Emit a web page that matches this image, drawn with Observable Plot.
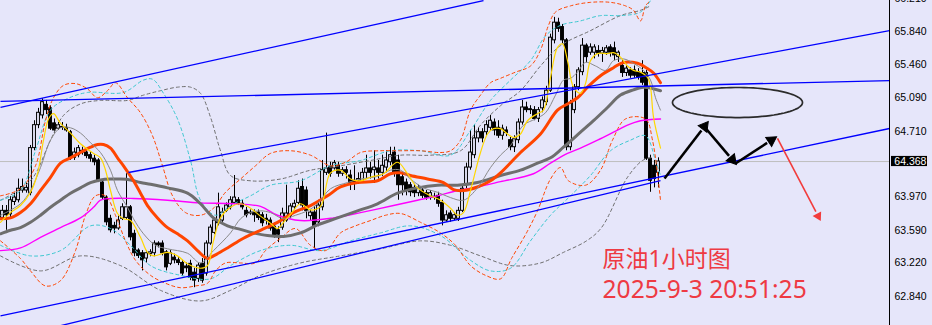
<!DOCTYPE html>
<html><head><meta charset="utf-8">
<script src="https://cdn.jsdelivr.net/npm/d3@7"></script>
<script src="https://cdn.jsdelivr.net/npm/@observablehq/plot@0.6"></script>
<style>
html,body{margin:0;padding:0;background:#E6E6FA;}
#chart svg{display:block;}
</style></head><body><div id="chart"></div>
<script>
// ---- candle data (hourly OHLC, crude oil) ----
const openP = [
63.73,63.81,63.77,63.91,63.93,64.04,64.04,64.01,64.52,64.78,
64.89,65.01,64.97,64.80,64.74,64.75,64.75,64.70,64.41,64.44,
64.49,64.47,64.44,64.40,64.38,64.13,63.96,63.72,63.64,63.61,
63.72,63.73,63.85,63.55,63.36,63.33,63.27,63.32,63.33,63.44,
63.44,63.34,63.21,63.28,63.25,63.22,63.18,63.21,63.11,63.04,
63.21,63.10,63.44,63.56,63.67,63.70,63.81,63.85,63.90,63.93,
63.89,63.81,63.79,63.79,63.79,63.76,63.72,63.70,63.63,63.59,
63.62,63.70,63.75,63.85,63.90,64.08,64.04,63.75,63.79,63.68,
63.85,64.24,64.31,64.29,64.32,64.23,64.27,64.21,64.15,64.15,
64.15,64.24,64.29,64.27,64.29,64.24,64.30,64.36,64.47,64.38,
64.19,64.13,64.10,64.07,64.01,64.04,64.01,63.96,63.97,63.98,
63.90,63.70,63.78,63.72,63.72,63.81,64.10,64.30,64.44,64.63,
64.70,64.70,64.75,64.81,64.75,64.66,64.72,64.61,64.53,64.61,
64.81,64.98,64.96,64.95,64.85,64.97,65.04,65.17,65.74,65.94,
65.89,65.74,64.53,64.95,65.21,65.38,65.68,65.60,65.60,65.62,
65.59,65.60,65.66,65.65,65.55,65.45,65.37,65.40,65.40,65.38,
65.37,65.37,64.40,64.32,64.24];
const highP = [
63.87,63.87,63.97,64.01,64.17,64.17,64.12,64.55,64.83,64.97,
65.08,65.06,65.00,64.85,64.81,64.81,64.79,64.72,64.52,64.55,
64.53,64.49,64.47,64.44,64.40,64.15,63.98,63.76,63.68,63.75,
63.89,64.23,63.87,63.59,63.38,63.36,63.36,63.37,63.47,63.46,
63.47,63.36,63.36,63.32,63.28,63.25,63.22,63.25,63.16,63.22,
63.27,63.47,63.65,63.73,64.01,63.84,63.90,63.97,64.21,63.96,
63.93,63.85,63.82,63.82,63.82,63.79,63.77,63.73,63.67,63.63,
63.84,64.10,63.89,63.93,64.15,64.17,64.08,63.82,63.86,63.93,
64.38,64.69,64.36,64.38,64.36,64.30,64.31,64.27,64.32,64.24,
64.29,64.44,64.36,64.49,64.38,64.44,64.49,64.53,64.53,64.44,
64.24,64.17,64.13,64.11,64.10,64.07,64.04,64.04,64.01,64.02,
63.93,63.81,63.81,63.79,63.85,64.10,64.35,64.72,64.78,64.75,
64.74,64.83,64.89,64.85,64.83,64.78,64.76,64.64,64.66,64.85,
65.06,65.04,65.00,64.99,64.98,65.10,65.22,65.81,66.00,65.99,
65.92,65.76,65.06,65.24,65.43,65.76,65.70,65.70,65.69,65.68,
65.66,65.68,65.69,65.72,65.62,65.51,65.45,65.43,65.45,65.42,
65.51,65.40,64.44,64.38,64.41];
const lowP = [
63.70,63.59,63.72,63.87,63.90,64.01,64.01,63.98,64.49,64.74,
64.85,64.90,64.72,64.69,64.72,64.72,64.70,64.38,64.38,64.41,
64.44,64.40,64.36,64.32,64.13,63.93,63.64,63.56,63.55,63.59,
63.70,63.71,63.47,63.29,63.27,63.13,63.22,63.29,63.29,63.39,
63.30,63.13,63.19,63.21,63.19,63.07,63.11,63.02,62.94,63.00,
62.99,63.07,63.42,63.54,63.64,63.68,63.79,63.82,63.88,63.87,
63.82,63.73,63.76,63.68,63.70,63.63,63.65,63.58,63.50,63.45,
63.59,63.68,63.72,63.82,63.88,63.81,63.72,63.70,63.38,63.63,
63.81,64.21,64.19,64.27,64.19,64.20,64.17,64.04,64.04,64.11,
64.13,64.17,64.17,64.12,64.17,64.20,64.24,64.32,64.19,63.93,
63.98,63.98,63.97,63.96,63.97,63.95,63.93,63.93,63.93,63.85,
63.64,63.68,63.68,63.70,63.69,63.79,64.06,64.27,64.40,64.58,
64.58,64.66,64.72,64.66,64.63,64.61,64.65,64.49,64.47,64.57,
64.78,64.92,64.90,64.83,64.81,64.92,65.00,65.15,65.70,65.83,
65.70,64.49,64.49,64.91,65.17,65.34,65.49,65.57,65.53,65.55,
65.49,65.57,65.55,65.51,65.49,65.32,65.33,65.31,65.31,65.29,
65.23,64.38,64.02,64.07,64.07];
const closeP = [
63.81,63.76,63.93,63.96,64.06,64.08,64.07,64.52,64.78,64.92,
65.04,64.95,64.74,64.72,64.78,64.76,64.72,64.40,64.47,64.52,
64.47,64.43,64.40,64.36,64.15,63.96,63.68,63.59,63.61,63.70,
63.85,63.85,63.51,63.33,63.30,63.25,63.33,63.34,63.44,63.42,
63.33,63.17,63.33,63.25,63.22,63.10,63.16,63.05,63.02,63.19,
63.02,63.44,63.62,63.70,63.85,63.79,63.87,63.93,63.96,63.89,
63.85,63.76,63.78,63.76,63.73,63.67,63.70,63.61,63.53,63.54,
63.78,63.78,63.86,63.89,64.06,63.87,63.81,63.79,63.64,63.87,
64.27,64.29,64.23,64.35,64.23,64.27,64.24,64.12,64.13,64.17,
64.24,64.29,64.24,64.30,64.24,64.32,64.38,64.44,64.23,64.10,
64.10,64.04,64.02,64.01,64.06,63.98,63.96,64.01,63.96,63.89,
63.70,63.76,63.72,63.76,63.81,64.06,64.30,64.47,64.63,64.70,
64.63,64.78,64.83,64.72,64.66,64.74,64.69,64.53,64.62,64.81,
64.98,64.95,64.95,64.85,64.95,65.06,65.17,65.77,65.94,65.87,
65.74,64.53,65.02,65.21,65.40,65.68,65.55,65.66,65.66,65.59,
65.62,65.65,65.60,65.57,65.60,65.37,65.42,65.34,65.34,65.32,
65.26,64.40,64.15,64.17,64.368];

const yTicks = [66.21, 65.84, 65.46, 65.09, 64.71, 63.97, 63.59, 63.22, 62.84];
const lastPrice = 64.368;

// ---- indicator lines: [candle index, price] ----
const maYellow = [[-0.5,63.68],[2,63.79],[4.5,63.87],[7,64.02],[8.75,64.23],[10.25,64.61],[11.5,64.85],[12.75,64.91],[14.5,64.80],[17,64.69],[19.5,64.57],[22.75,64.46],[24.5,64.41],[25.75,64.27],[27,64.04],[28.75,63.78],[30.25,63.72],[32,63.70],[34.5,63.51],[36.25,63.34],[37.75,63.30],[41.25,63.34],[43.75,63.30],[46.25,63.21],[49.5,63.16],[51.25,63.19],[52.75,63.47],[54.5,63.73],[57,63.85],[59.5,63.89],[62,63.84],[64.5,63.75],[67,63.67],[68.75,63.61],[70.25,63.68],[72,63.77],[74.5,63.89],[77,63.82],[79.5,63.86],[82,64.24],[84.5,64.27],[87,64.17],[89.5,64.15],[92,64.19],[95.25,64.23],[98.75,64.36],[101.25,64.23],[103.75,64.07],[107,63.98],[109.5,63.93],[112,63.84],[113.75,63.76],[115.25,63.79],[117,64.04],[119.5,64.47],[121.25,64.68],[122.75,64.74],[124.5,64.74],[126.25,64.68],[127.75,64.64],[129.5,64.68],[131.25,64.83],[133.75,64.91],[135.25,64.95],[137,65.32],[138.75,65.66],[140,65.70],[141.25,65.51],[142.75,65.21],[144.5,65.14],[145.75,65.25],[147,65.51],[148.75,65.59],[151.25,65.59],[152.75,65.60],[154.5,65.55],[156.25,65.45],[157.75,65.40],[159.5,65.38],[161.25,65.32],[162,65.21],[162.75,64.87],[164.5,64.52]];
const maGrayThin = [[-0.5,63.76],[4.5,63.89],[7,64.04],[9.5,64.30],[12,64.61],[14.5,64.75],[17,64.75],[19.5,64.69],[22,64.58],[24.5,64.47],[27,64.27],[28.75,64.04],[31.25,63.85],[32.75,63.72],[35.25,63.55],[38.25,63.42],[41.25,63.38],[46.25,63.33],[49.5,63.22],[52.75,63.36],[57,63.56],[59.5,63.72],[62,63.79],[64.5,63.81],[67,63.79],[70.25,63.72],[73.25,63.76],[76.25,63.81],[78.75,63.89],[82,64.06],[86.25,64.13],[89.5,64.17],[93.75,64.20],[97,64.27],[99.5,64.27],[102,64.17],[105.25,64.07],[108.75,64.02],[112,63.96],[115.25,63.93],[118.75,64.07],[122,64.30],[124.5,64.44],[127,64.55],[130.25,64.78],[133.25,64.85],[135.75,64.92],[138.25,65.12],[140.25,65.29],[142,65.31],[143.75,65.38],[145.75,65.49],[148.25,65.45],[150.75,65.40],[152.75,65.51],[155.25,65.53],[157.75,65.48],[160.25,65.40],[162,65.29],[163.25,65.09],[164.5,64.95]];
const maOrange = [[-0.5,63.72],[2,63.73],[4.5,63.79],[7,63.89],[9.5,64.04],[12,64.19],[14.5,64.35],[17,64.41],[19.5,64.47],[22,64.53],[23.75,64.56],[25.25,64.56],[27,64.52],[28.75,64.41],[30.25,64.32],[32.75,64.15],[34.5,64.01],[36.25,63.87],[38.75,63.73],[41.25,63.62],[43.75,63.55],[46.25,63.47],[48.75,63.36],[51.25,63.27],[52.75,63.30],[56.25,63.39],[60.25,63.50],[64.5,63.59],[68.75,63.68],[72.75,63.79],[77,63.87],[81.25,63.98],[84.5,64.08],[88.75,64.13],[93.75,64.15],[97,64.23],[99.5,64.24],[102,64.21],[106.25,64.17],[110.25,64.13],[112.75,64.05],[115.25,64.04],[118.75,64.08],[122,64.15],[124.5,64.24],[129.5,64.47],[134.5,64.68],[138.75,64.95],[141.25,65.02],[143.75,65.09],[146.25,65.21],[149.5,65.34],[152.75,65.43],[155.25,65.49],[158.75,65.48],[161.25,65.42],[162.75,65.37],[164.5,65.26]];
const maGrayThick = [[-0.5,63.55],[2,63.59],[4.5,63.62],[7,63.68],[9.5,63.76],[12,63.85],[14.5,63.93],[17,64.01],[19.5,64.07],[22,64.13],[24.5,64.16],[27,64.17],[29.5,64.17],[32,64.16],[34.5,64.13],[37,64.11],[41.25,64.07],[46.25,64.01],[49.5,63.89],[52.75,63.73],[56.25,63.64],[59.5,63.60],[62.75,63.56],[66.25,63.53],[70.25,63.52],[74.5,63.56],[78.75,63.65],[83.75,63.73],[88.75,63.81],[93.75,63.89],[98.75,64.01],[103.75,64.07],[108.75,64.10],[113.75,64.10],[118.75,64.13],[124.5,64.21],[129.5,64.27],[133.75,64.35],[137,64.41],[140.25,64.53],[144.5,64.70],[147.75,64.83],[151.25,64.98],[154.5,65.12],[157.75,65.18],[160.25,65.21],[164.5,65.17]];
const maMagenta = [[-0.5,63.36],[4.5,63.39],[9.5,63.51],[14.5,63.62],[19.5,63.73],[22.75,63.85],[24.5,63.93],[27,63.95],[32.75,63.95],[41.25,63.93],[49.5,63.90],[57.75,63.89],[64.5,63.86],[68.75,63.76],[74.5,63.70],[82.75,63.73],[89.5,63.79],[97.75,63.87],[103.75,63.93],[108.75,63.98],[113.75,64.04],[118.75,64.08],[124.5,64.14],[132.75,64.23],[137,64.35],[141.25,64.46],[144.5,64.52],[148.75,64.61],[152.75,64.70],[156.25,64.78],[159.5,64.83],[164.5,64.85]];

// envelope bands (dashed)
const bandOrangeUp = [[-0.5,63.98],[4.5,64.06],[8.25,64.32],[10.75,64.83],[12.75,65.09],[15.25,65.23],[18.25,65.25],[21.25,65.19],[23.75,65.09],[26.25,65.17],[28.25,65.26],[31.25,65.09],[34.5,64.92],[37.5,64.66],[40,64.32],[42.5,63.98],[45.75,63.79],[49.5,63.76],[52.75,63.84],[55.75,64.02],[59.5,64.17],[63.25,64.32],[67,64.46],[72,64.49],[77,64.44],[82,64.32],[85.75,64.36],[89.5,64.47],[94.5,64.49],[99.5,64.49],[104.5,64.49],[109.5,64.47],[112,64.49],[114.5,64.61],[117,64.95],[119.5,65.12],[122,65.26],[124.5,65.31],[128.25,65.38],[132,65.45],[134.5,65.63],[136.5,65.91],[138.25,66.06],[142,66.13],[147,66.17],[152,66.17],[155.75,66.13],[157.75,66.08],[159.5,65.96],[160.75,66.13],[162,66.19]];
const bandOrangeLow = [[-0.5,63.47],[4.5,63.27],[7,63.13],[10.75,62.96],[14.5,63.02],[18.25,63.36],[20.75,63.76],[23.25,63.98],[25.75,63.98],[28.25,63.76],[30.75,63.47],[33.25,63.25],[37,63.08],[40.75,62.99],[44.5,62.94],[48.25,62.96],[51.25,62.99],[53.25,63.13],[55.75,63.22],[59.5,63.22],[63.25,63.22],[65.75,63.36],[69.5,63.50],[73.25,63.61],[77,63.42],[80.75,63.36],[84.5,63.56],[88.25,63.64],[92,63.70],[95.75,63.76],[99.5,63.78],[104.5,63.68],[109.5,63.56],[113.25,63.42],[117,63.19],[120.75,63.08],[124.5,63.04],[127.25,63.27],[131,63.56],[133.75,63.81],[137,64.17],[139.5,64.30],[141.5,64.15],[145.75,64.10],[149.5,64.27],[152.5,64.61],[155.75,64.85],[160.75,64.85],[162.5,64.61],[164.5,63.93]];
const bandCyanUp = [[-0.5,63.93],[4.5,64.04],[8.25,64.49],[12,64.95],[16.25,65.08],[21.25,65.15],[30.25,65.15],[35.25,65.29],[37.5,65.30],[40.25,65.14],[43.75,64.85],[47,64.38],[49.5,63.93],[53.25,63.76],[57,63.87],[62,63.98],[67,64.10],[74.5,64.15],[82,64.32],[89.5,64.38],[97,64.49],[104.5,64.49],[112,64.44],[117,64.72],[122,65.06],[127,65.29],[132,65.51],[135.75,65.79],[139.5,65.91],[144.5,65.96],[149.5,66.02],[154.5,66.02],[159.5,66.06],[162,66.19]];
const bandCyanLow = [[-0.5,63.42],[7,63.30],[14.5,63.36],[22,63.64],[27,63.61],[32,63.42],[37,63.19],[44.5,63.08],[52,63.04],[57,63.19],[64.5,63.36],[72,63.42],[79.5,63.36],[87,63.47],[94.5,63.56],[102,63.64],[109.5,63.53],[117,63.25],[122,63.13],[127,63.16],[132,63.47],[137,63.76],[142,63.98],[147,64.21],[152,64.49],[157,64.61],[160.75,64.66],[163.25,64.38],[164.5,64.21]];
const bandGrayUp = [[-0.5,63.93],[7,64.15],[12,64.61],[15.25,64.89],[19.5,65.02],[24.5,65.06],[31.25,65.06],[35.25,65.12],[39.5,65.17],[43.75,65.21],[47,65.21],[49.5,65.14],[52,64.87],[54.5,64.49],[57,64.21],[62,64.15],[69.5,64.17],[77,64.27],[84.5,64.32],[92,64.38],[99.5,64.44],[107,64.44],[114.5,64.49],[119.5,64.78],[124.5,65.00],[129.5,65.17],[134.5,65.45],[139.5,65.68],[147,65.85],[154.5,66.02],[159.5,66.08],[162,66.13]];
const bandGrayLow = [[-0.5,63.30],[9.5,63.13],[19.5,63.30],[29.5,63.19],[39.5,62.91],[49.5,62.79],[57,62.91],[64.5,63.08],[74.5,63.22],[84.5,63.30],[94.5,63.38],[104.5,63.47],[112,63.42],[119.5,63.30],[127,63.19],[134.5,63.22],[140.25,63.34],[146,63.47],[149.75,63.62],[156.25,64.19],[160,64.38],[162,64.41]];

// trend lines drawn on the chart: [x1, price1, x2, price2]
const trendLines = [
  [-0.5, 64.98, 120.25, 66.19],
  [-0.5, 65.048, 221.75, 65.285],
  [31.5, 64.244, 221.75, 65.851],
  [-0.5, 62.62, 221.75, 64.742],
  [9.5, 62.455, 164.5, 64.153]
];
// annotations
const ellipseSpec = {cx: 183.75, cy: 65.036, rx: 16.25, ry: 0.17};
const blackArrows = [
  [165.5, 64.176, 176.25, 64.81],
  [175, 64.787, 183.25, 64.346],
  [183.25, 64.346, 193.25, 64.64]
];
const redArrows = [[193.75, 64.629, 204.5, 63.70]];
const titleLine1 = "原油1小时图";
const titleLine2 = "2025-9-3 20:51:25";
const titleY = [63.263, 62.911];
const titleX = 150;

// ---------------------------------------------------
const bg = "#E6E6FA";
const xMin = -0.5, xMax = 221.75, yMin = 62.512, yMax = 66.191;
const W = 932, H = 325, mR = 43;
const candles = openP.map((o, i) => ({i, open: o, high: highP[i], low: lowP[i], close: closeP[i]}));
const pts = arr => arr.map(([x, y]) => ({x, y}));
const segs = arr => arr.map(([x1, y1, x2, y2]) => ({x1, y1, x2, y2}));
const ellipsePts = d3.range(0, 361, 4).map(a => ({
  x: ellipseSpec.cx + ellipseSpec.rx * Math.cos(a * Math.PI / 180),
  y: ellipseSpec.cy + ellipseSpec.ry * Math.sin(a * Math.PI / 180)
}));
// mirror of the plot's scales, used to orient arrow heads on screen
const sx = d3.scaleLinear([xMin, xMax], [0, W - mR]);
const sy = d3.scaleLinear([yMin, yMax], [H, 0]);
function heads(arr, back) {
  return arr.map(([x1, y1, x2, y2]) => {
    const dx = sx(x2) - sx(x1), dy = sy(y2) - sy(y1);
    const len = Math.hypot(dx, dy);
    const ux = dx / len, uy = dy / len;
    const hx = sx(x2) - ux * back, hy = sy(y2) - uy * back;
    return {x: sx.invert(hx), y: sy.invert(hy), rot: Math.atan2(dx, -dy) * 180 / Math.PI,
            x1, y1, x2: sx.invert(hx - ux * back), y2: sy.invert(hy - uy * back)};
  });
}
const blackHeads = heads(blackArrows, 5);
const redHeads = heads(redArrows, 5);
const lineMark = (arr, stroke, w, dash) => Plot.line(pts(arr), {x: "x", y: "y", stroke, strokeWidth: w, strokeDasharray: dash, curve: "catmull-rom"});

const chart = Plot.plot({
  width: W, height: H,
  marginLeft: 0, marginRight: mR, marginTop: 0, marginBottom: 0,
  style: {background: bg, overflow: "visible", fontFamily: "Liberation Sans, Arial, sans-serif"},
  x: {domain: [xMin, xMax], axis: null},
  y: {domain: [yMin, yMax]},
  marks: [
    Plot.ruleY([lastPrice], {stroke: "#BEBEBE", strokeWidth: 1}),
    Plot.ruleX(candles, {x: "i", y1: "low", y2: "high", stroke: "black", strokeWidth: 1}),
    Plot.rect(candles, {x1: d => d.i - 0.36, x2: d => d.i + 0.36, y1: "open", y2: "close",
      fill: d => d.close >= d.open ? bg : "black", stroke: "black", strokeWidth: 1}),
    lineMark(bandGrayUp, "#6E6E6E", 1, "3,3"),
    lineMark(bandGrayLow, "#6E6E6E", 1, "3,3"),
    lineMark(bandCyanUp, "#3CC8D0", 1, "3,3"),
    lineMark(bandCyanLow, "#3CC8D0", 1, "3,3"),
    lineMark(bandOrangeUp, "#FF4500", 1, "3,3"),
    lineMark(bandOrangeLow, "#FF4500", 1, "3,3"),
    lineMark(maMagenta, "#FF00FF", 1.4),
    lineMark(maGrayThick, "#6E6E6E", 3),
    lineMark(maOrange, "#FF4500", 3),
    lineMark(maGrayThin, "#8A8A8A", 1),
    lineMark(maYellow, "#FFD700", 1.2),
    Plot.link(segs(trendLines), {x1: "x1", y1: "y1", x2: "x2", y2: "y2", stroke: "#0000FF", strokeWidth: 1.3}),
    Plot.line(ellipsePts, {x: "x", y: "y", stroke: "#2B2B2B", strokeWidth: 1.7}),
    // black arrows: shaft + filled head
    Plot.link(blackHeads, {x1: "x1", y1: "y1", x2: "x2", y2: "y2", stroke: "black", strokeWidth: 2.6}),
    Plot.dot(blackHeads, {x: "x", y: "y", rotate: "rot", symbol: "triangle2", r: 5.2, fill: "black", stroke: "black", strokeWidth: 1}),
    // red arrow
    Plot.link(redHeads, {x1: "x1", y1: "y1", x2: "x2", y2: "y2", stroke: "#F23C3C", strokeWidth: 1.6}),
    Plot.dot(redHeads, {x: "x", y: "y", rotate: "rot", symbol: "triangle2", r: 4.6, fill: "#F23C3C"}),
    Plot.text([titleLine1], {x: titleX, y: titleY[0], text: d => d, textAnchor: "start",
      fill: "#EE3A43", fontSize: 23, fontFamily: "Noto Sans, Noto Sans CJK SC, sans-serif"}),
    Plot.text([titleLine2], {x: titleX, y: titleY[1], text: d => d, textAnchor: "start",
      fill: "#EE3A43", fontSize: 24.6, fontFamily: "Noto Sans, Noto Sans CJK SC, sans-serif"}),
    Plot.ruleX([xMax], {stroke: "black", strokeWidth: 1}),
    Plot.axisY(yTicks, {anchor: "right", tickSize: 3, tickPadding: 2, tickFormat: d => d.toFixed(3),
      fontSize: 10.5, fill: "black", stroke: null}),
    Plot.rect([lastPrice], {x1: xMax + 0.5, x2: xMax + 9.5, y1: d => d - 0.057, y2: d => d + 0.058, fill: "black"}),
    Plot.text([lastPrice], {x: xMax + 1.2, y: d => d, text: d => d.toFixed(3), textAnchor: "start", fill: "white", fontSize: 10.5})
  ]
});
document.getElementById("chart").appendChild(chart);
</script>
</body></html>
